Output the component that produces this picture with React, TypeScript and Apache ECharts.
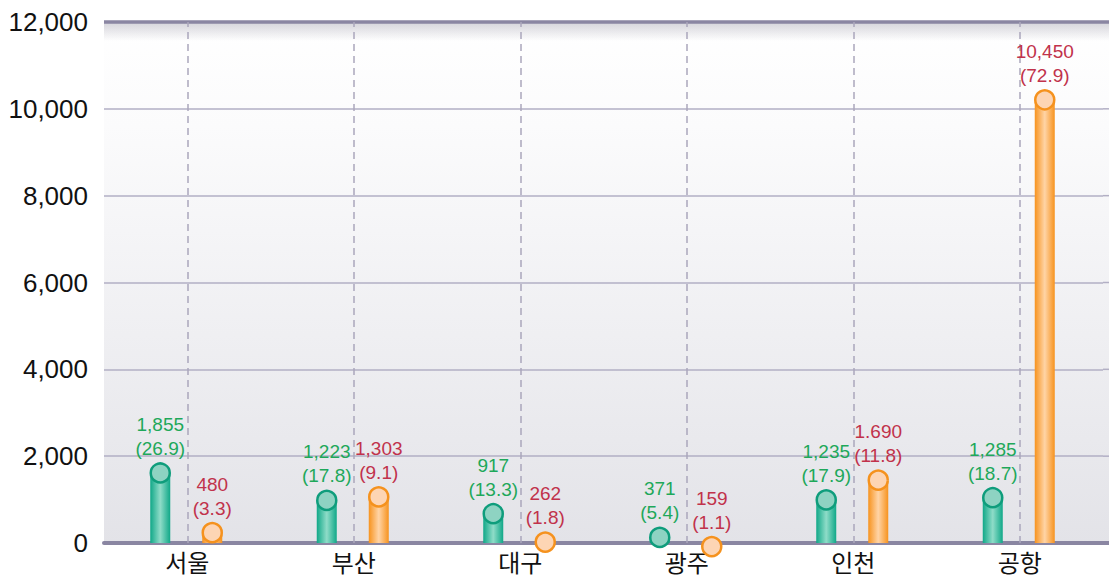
import React, { useEffect, useRef } from "react";
import * as echarts from "echarts";

const categories = ["서울", "부산", "대구", "광주", "인천", "공항"];
const greenValues = [1855, 1223, 917, 371, 1235, 1285];
const greenPct = ["26.9", "17.8", "13.3", "5.4", "17.9", "18.7"];
const greenLabels = ["1,855", "1,223", "917", "371", "1,235", "1,285"];
const orangeValues = [480, 1303, 262, 159, 1690, 10450];
const orangePct = ["3.3", "9.1", "1.8", "1.1", "11.8", "72.9"];
const orangeLabels = ["480", "1,303", "262", "159", "1.690", "10,450"];
const yTicks = [0, 2000, 4000, 6000, 8000, 10000, 12000];

const FONT = "'Liberation Sans', Arial, sans-serif";

function makeSeries(
  name: string,
  values: number[],
  labels: string[],
  pcts: string[],
  offset: number,
  edge: string,
  center: string,
  capFill: string,
  capStroke: string,
  textColor: string,
  withMarks: boolean
) {
  const s: any = {
    name,
    type: "custom",
    data: values.map((v, i) => [i, v]),
    z: 5,
    renderItem: (params: any, api: any) => {
      const idx = api.value(0);
      const val = api.value(1);
      const top = api.coord([idx, val]);
      const base = api.coord([idx, 0]);
      const w = 20;
      const r = 9.5;
      const cx = top[0] + offset;
      const cy = top[1] + r + 1;
      const i = params.dataIndex;
      return {
        type: "group",
        children: [
          {
            type: "rect",
            shape: { x: cx - w / 2, y: cy, width: w, height: Math.max(0, base[1] - cy) },
            style: {
              fill: new echarts.graphic.LinearGradient(0, 0, 1, 0, [
                { offset: 0, color: edge },
                { offset: 0.5, color: center },
                { offset: 1, color: edge },
              ]),
            },
          },
          {
            type: "circle",
            shape: { cx, cy, r },
            style: { fill: capFill, stroke: capStroke, lineWidth: 2.5 },
          },
          {
            type: "text",
            x: cx,
            y: cy - r - 3,
            style: {
              text: labels[i] + "\n(" + pcts[i] + ")",
              fill: textColor,
              font: "19px " + FONT,
              lineHeight: 24,
              align: "center",
              verticalAlign: "bottom",
            },
          },
        ],
      };
    },
  };
  if (withMarks) {
    s.markLine = {
      silent: true,
      symbol: "none",
      label: { show: false },
      animation: false,
      data: [
        ...categories.map((c) => ({
          xAxis: c,
          lineStyle: { color: "#aaa6bc", type: [7, 5], width: 1.5 },
        })),
      ],
    };
  }
  return s;
}

export default function App() {
  const ref = useRef<HTMLDivElement>(null);
  useEffect(() => {
    document.body.style.margin = "0";
    if (!ref.current) return;
    const chart = echarts.init(ref.current, null, { renderer: "svg" });
    chart.setOption({
      animation: false,
      grid: {
        left: 104,
        right: 6,
        top: 22,
        bottom: 38,
        show: true,
        borderWidth: 0,
        backgroundColor: new echarts.graphic.LinearGradient(0, 0, 0, 1, [
          { offset: 0, color: "#ffffff" },
          { offset: 0.2, color: "#fbfbfc" },
          { offset: 1, color: "#e3e3e8" },
        ]),
      },
      graphic: [
        {
          type: "rect",
          silent: true,
          shape: { x: 1103, y: 22, width: 6, height: 521 },
          style: {
            fill: new echarts.graphic.LinearGradient(0, 0, 0, 1, [
              { offset: 0, color: "#ffffff" },
              { offset: 0.2, color: "#fbfbfc" },
              { offset: 1, color: "#e3e3e8" },
            ]),
          },
          z: -1,
        },
        {
          type: "rect",
          silent: true,
          shape: { x: 104, y: 23, width: 1005, height: 18 },
          style: {
            fill: new echarts.graphic.LinearGradient(0, 0, 0, 1, [
              { offset: 0, color: "rgba(110,108,130,0.28)" },
              { offset: 1, color: "rgba(110,108,130,0)" },
            ]),
          },
          z: 1,
        },
        ...yTicks.slice(1, -1).map((_, k) => ({
          type: "line",
          silent: true,
          shape: { x1: 1103, x2: 1109, y1: 0, y2: 0 },
          y: 543 - ((k + 1) * 521) / 6,
          style: { stroke: "#b2afc4", lineWidth: 1.5 },
          z: 1,
        })),
        {
          type: "line",
          silent: true,
          shape: { x1: 104, x2: 1109, y1: 22, y2: 22 },
          style: { stroke: "#8a86a2", lineWidth: 3.5 },
          z: 2,
        },
        {
          type: "line",
          silent: true,
          shape: { x1: 1100, x2: 1109, y1: 543, y2: 543 },
          style: { stroke: "#8a86a2", lineWidth: 4 },
          z: 2,
        },
      ],
      xAxis: {
        type: "category",
        data: categories,
        axisTick: { show: false },
        axisLine: { show: true, lineStyle: { color: "#8a86a2", width: 4 } },
        axisLabel: { color: "#111", fontSize: 24, fontFamily: "'Noto Sans CJK KR', sans-serif", margin: 6 },
        splitLine: { show: false },
      },
      yAxis: {
        type: "value",
        min: yTicks[0],
        max: yTicks[yTicks.length - 1],
        interval: 2000,
        axisLine: { show: false },
        axisTick: { show: false },
        axisLabel: {
          color: "#111",
          fontSize: 26,
          fontFamily: FONT,
          margin: 16,
          formatter: (v: number) => v.toLocaleString("en-US"),
        },
        splitLine: { show: true, lineStyle: { color: "#b2afc4", width: 1.5 } },
      },
      series: [
        makeSeries("green", greenValues, greenLabels, greenPct, -27, "#10a888", "#8fdcc8", "#8ed3c2", "#0f9d7c", "#1ea85a", true),
        makeSeries("orange", orangeValues, orangeLabels, orangePct, 25, "#f7931e", "#ffd4a6", "#fdd5b4", "#f5921e", "#c1324b", false),
      ],
    });
    return () => chart.dispose();
  }, []);
  return <div ref={ref} style={{ width: 1109, height: 581 }} />;
}
